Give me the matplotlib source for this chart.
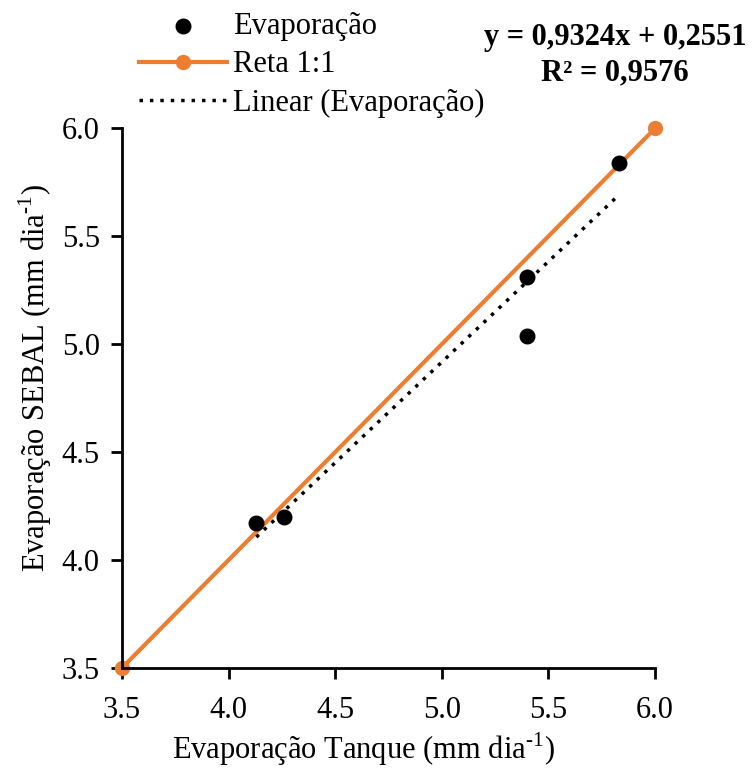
import numpy as np
import matplotlib
matplotlib.use("Agg")
import matplotlib.pyplot as plt

plt.rcParams["font.family"] = ["Liberation Serif", "DejaVu Serif"]
plt.rcParams["mathtext.fontset"] = "custom"
plt.rcParams["mathtext.rm"] = "Liberation Serif"

# tank vs SEBAL evaporation (mm/day)
tanque = [4.13, 4.26, 5.40, 5.40, 5.83]
sebal = [4.17, 4.20, 5.31, 5.04, 5.84]
reta_x = [3.5, 6.0]
reta_y = [3.5, 6.0]
slope = 0.9324
intercept = 0.2551
r2 = 0.9576

orange = "#ed7d31"
fs = 22

fig = plt.figure(figsize=(7.53, 7.73), dpi=100)
ax = fig.add_axes([0.162, 0.136, 0.708, 0.698])

ax.plot(reta_x, reta_y, color=orange, lw=3, marker="o", ms=10,
        label="Reta 1:1", clip_on=False, zorder=2)
ax.scatter(tanque, sebal, s=110, color="black", label="Evaporação", zorder=3)

fit_x = np.array([min(tanque), max(tanque)])
ax.plot(fit_x, slope * fit_x + intercept, color="black", lw=2.5,
        linestyle=(0, (1, 2)), label="Linear (Evaporação)", zorder=4)

ax.set_xlim(3.5, 6.0)
ax.set_ylim(3.5, 6.0)
ax.set_xticks(np.arange(3.5, 6.01, 0.5))
ax.set_yticks(np.arange(3.5, 6.01, 0.5))
ax.xaxis.set_major_formatter(matplotlib.ticker.FormatStrFormatter("%.1f"))
ax.yaxis.set_major_formatter(matplotlib.ticker.FormatStrFormatter("%.1f"))
ax.tick_params(labelsize=fs, width=2, length=8, colors="black")
ax.tick_params(axis="x", pad=12)
ax.tick_params(axis="y", pad=8)
for s in ["top", "right"]:
    ax.spines[s].set_visible(False)
for s in ["left", "bottom"]:
    ax.spines[s].set_linewidth(2)

ax.set_xlabel("Evaporação Tanque (mm dia$^{\\text{-}1}$)", fontsize=fs)
ax.set_ylabel("Evaporação SEBAL (mm dia$^{\\text{-}1}$)", fontsize=fs)
ax.xaxis.set_label_coords(0.452, -0.115)
ax.yaxis.set_label_coords(-0.128, 0.537)

handles, labels = ax.get_legend_handles_labels()
order = [1, 0, 2]
fig.legend([handles[i] for i in order], [labels[i] for i in order],
           loc="upper left", bbox_to_anchor=(0.168, 1.0), frameon=False,
           fontsize=fs, handlelength=2.9, handletextpad=0.2, labelspacing=0.3,
           borderaxespad=0)

fig.text(0.817, 0.951, "y = {:.4f}x + {:.4f}".format(slope, intercept).replace(".", ","),
         ha="center", va="center", fontsize=fs, fontweight="bold")
fig.text(0.817, 0.906, "R² = {:.4f}".format(r2).replace(".", ","),
         ha="center", va="center", fontsize=fs, fontweight="bold")

fig.savefig("out.png", dpi=100)
